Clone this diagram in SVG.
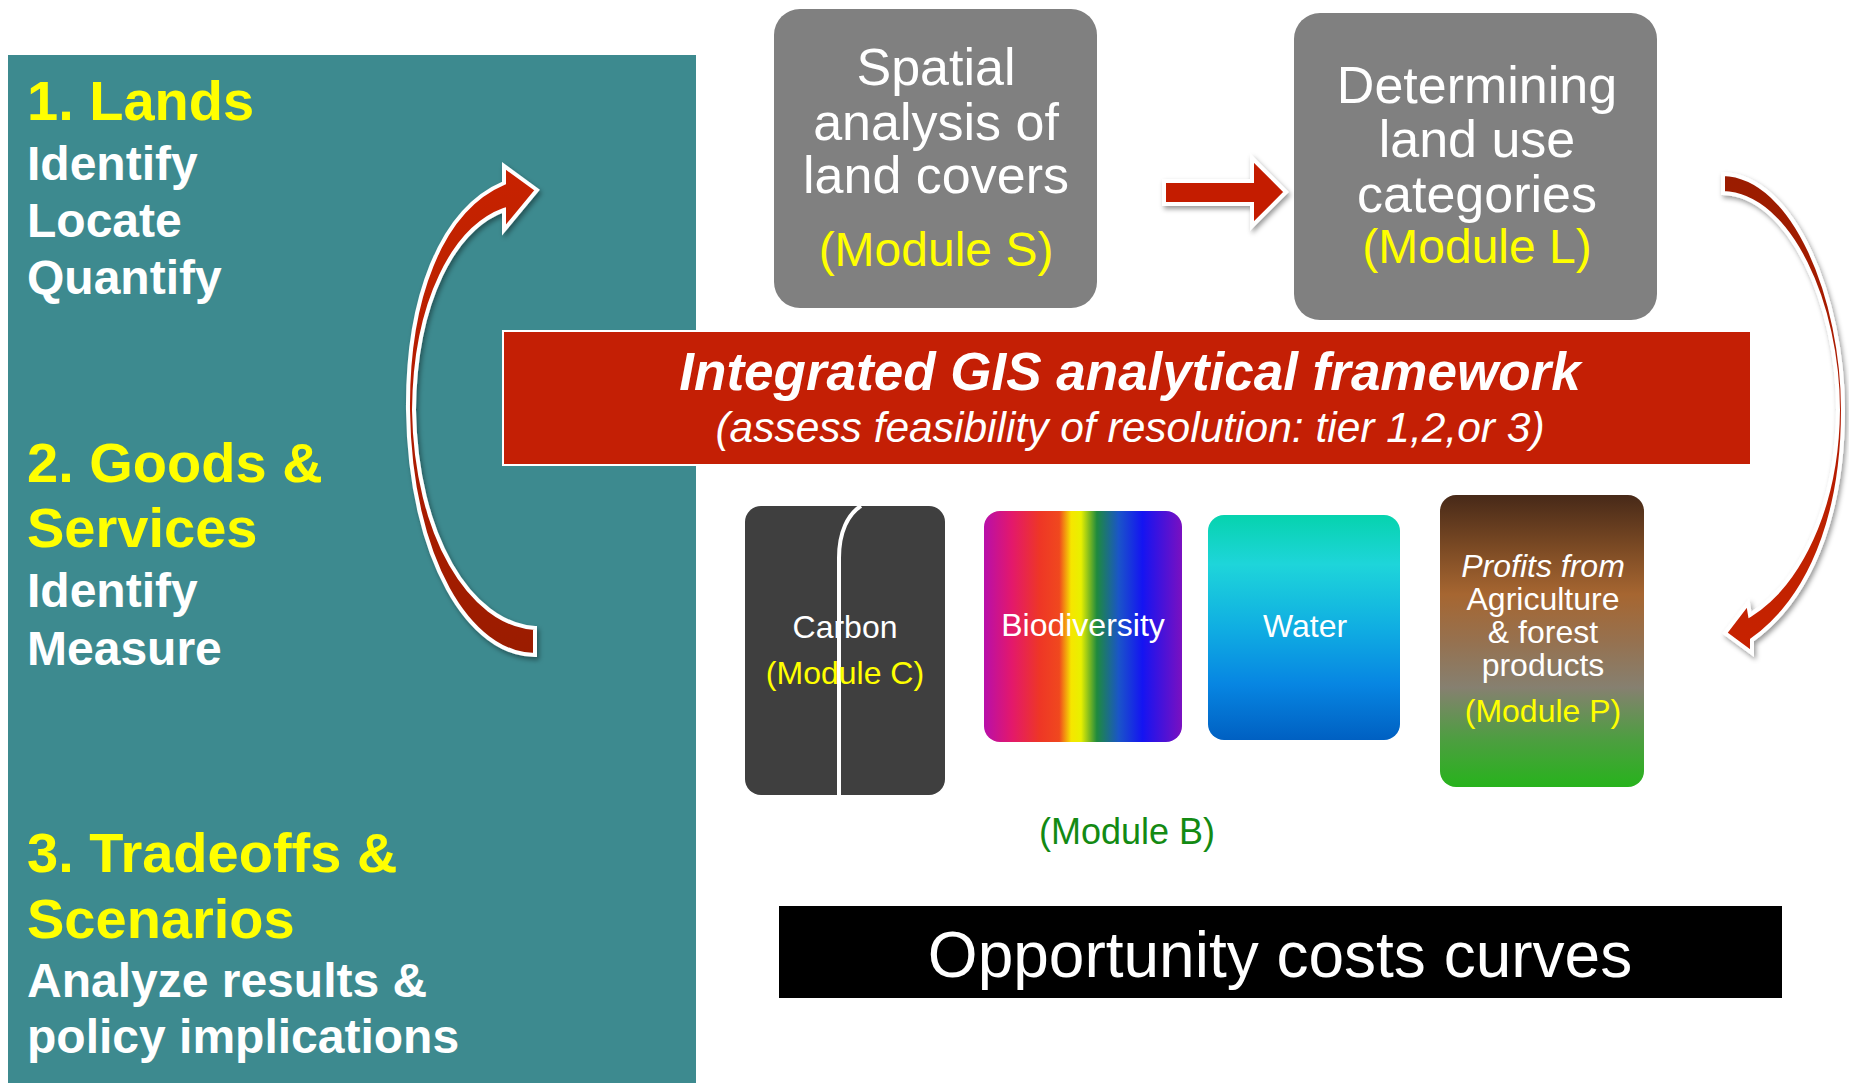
<svg xmlns="http://www.w3.org/2000/svg" width="1849" height="1083" viewBox="0 0 1849 1083">
  <defs>
    <style>
      .sans { font-family: "Liberation Sans", Arial, sans-serif; }
      .head { font-family: "Liberation Sans", Arial, sans-serif; font-weight: bold; font-size: 56px; fill: #FFFF00; }
      .step { font-family: "Liberation Sans", Arial, sans-serif; font-weight: bold; font-size: 48px; fill: #FFFFFF; }
      .box-title { font-family: "Liberation Sans", Arial, sans-serif; font-size: 52px; fill: #FFFFFF; text-anchor: middle; }
      .box-mod { font-family: "Liberation Sans", Arial, sans-serif; font-size: 48px; fill: #FFFF00; text-anchor: middle; }
      .small { font-family: "Liberation Sans", Arial, sans-serif; font-size: 32px; fill: #FFFFFF; text-anchor: middle; }
      .small-mod { font-family: "Liberation Sans", Arial, sans-serif; font-size: 32px; fill: #FFFF00; text-anchor: middle; }
      .arrow { stroke: #FFFFFF; stroke-width: 4; stroke-linejoin: miter; filter: url(#shadow); }
    </style>
    <filter id="shadow" x="-20%" y="-20%" width="150%" height="150%">
      <feDropShadow dx="2" dy="3" stdDeviation="2.5" flood-color="#000000" flood-opacity="0.4"/>
    </filter>
    <linearGradient id="gLeftArrow" x1="0" y1="0" x2="0" y2="1">
      <stop offset="0" stop-color="#C82205"/>
      <stop offset="0.5" stop-color="#B21E05"/>
      <stop offset="1" stop-color="#9A1B04"/>
    </linearGradient>
    <linearGradient id="gRightArrow" x1="0" y1="0" x2="0" y2="1">
      <stop offset="0" stop-color="#9A1B04"/>
      <stop offset="0.5" stop-color="#B21E05"/>
      <stop offset="1" stop-color="#C82205"/>
    </linearGradient>
    <linearGradient id="gBio" x1="0" y1="0" x2="1" y2="0">
      <stop offset="0" stop-color="#B80FAA"/>
      <stop offset="0.14" stop-color="#E3186C"/>
      <stop offset="0.28" stop-color="#EE3626"/>
      <stop offset="0.38" stop-color="#F0481E"/>
      <stop offset="0.44" stop-color="#F6E600"/>
      <stop offset="0.49" stop-color="#E8F000"/>
      <stop offset="0.57" stop-color="#1E8A3E"/>
      <stop offset="0.68" stop-color="#1A55C8"/>
      <stop offset="0.8" stop-color="#1414F2"/>
      <stop offset="1" stop-color="#7A10C0"/>
    </linearGradient>
    <linearGradient id="gWater" x1="0" y1="0" x2="0" y2="1">
      <stop offset="0" stop-color="#06D3AE"/>
      <stop offset="0.22" stop-color="#1ED5DA"/>
      <stop offset="0.5" stop-color="#10AEE2"/>
      <stop offset="0.75" stop-color="#0786E2"/>
      <stop offset="1" stop-color="#0060C2"/>
    </linearGradient>
    <linearGradient id="gProfit" x1="0" y1="0" x2="0" y2="1">
      <stop offset="0" stop-color="#472918"/>
      <stop offset="0.18" stop-color="#7B4A24"/>
      <stop offset="0.34" stop-color="#A66631"/>
      <stop offset="0.5" stop-color="#96714F"/>
      <stop offset="0.66" stop-color="#868070"/>
      <stop offset="0.83" stop-color="#4F9D42"/>
      <stop offset="1" stop-color="#27B31C"/>
    </linearGradient>
  </defs>

  <rect width="1849" height="1083" fill="#FFFFFF"/>

  <!-- left panel: the three steps -->
  <g id="steps-panel">
    <rect x="8" y="55" width="688" height="1028" fill="#3D8A8F"/>
    <text class="head" x="27" y="120">1. Lands</text>
    <text class="step" x="27" y="180">Identify</text>
    <text class="step" x="27" y="237">Locate</text>
    <text class="step" x="27" y="294">Quantify</text>
    <text class="head" x="27" y="482">2. Goods &amp;</text>
    <text class="head" x="27" y="547">Services</text>
    <text class="step" x="27" y="607">Identify</text>
    <text class="step" x="27" y="665">Measure</text>
    <text class="head" x="27" y="872">3. Tradeoffs &amp;</text>
    <text class="head" x="27" y="938">Scenarios</text>
    <text class="step" x="27" y="997">Analyze results &amp;</text>
    <text class="step" x="27" y="1053">policy implications</text>
  </g>

  <!-- Module S -->
  <g id="module-s">
    <rect x="774" y="9" width="323" height="299" rx="26" fill="#808080"/>
    <text class="box-title" x="936" y="85">Spatial</text>
    <text class="box-title" x="936" y="140">analysis of</text>
    <text class="box-title" x="936" y="193">land covers</text>
    <text class="box-mod" x="936" y="266">(Module S)</text>
  </g>

  <!-- Module L -->
  <g id="module-l">
    <rect x="1294" y="13" width="363" height="307" rx="26" fill="#808080"/>
    <text class="box-title" x="1477" y="103">Determining</text>
    <text class="box-title" x="1477" y="157">land use</text>
    <text class="box-title" x="1477" y="212">categories</text>
    <text class="box-mod" x="1477" y="263">(Module L)</text>
  </g>

  <!-- framework banner -->
  <g id="framework">
    <rect x="503" y="331" width="1248" height="134" fill="#C41F05" stroke="#FFFFFF" stroke-width="2"/>
    <text class="sans" x="1130" y="390" font-size="53" font-weight="bold" font-style="italic" fill="#FFFFFF" text-anchor="middle">Integrated GIS analytical framework</text>
    <text class="sans" x="1130" y="442" font-size="42.5" font-style="italic" fill="#FFFFFF" text-anchor="middle">(assess feasibility of resolution: tier 1,2,or 3)</text>
  </g>

  <!-- Module C -->
  <g id="module-c">
    <rect x="745" y="506" width="200" height="289" rx="16" fill="#3F3F3F"/>
    <path d="M839,795 L839,558 C839,532 848,514 861,506" fill="none" stroke="#FFFFFF" stroke-width="4"/>
    <text class="small" x="845" y="638">Carbon</text>
    <text class="small-mod" x="845" y="684">(Module C)</text>
  </g>

  <!-- Biodiversity -->
  <g id="biodiversity">
    <rect x="984" y="511" width="198" height="231" rx="16" fill="url(#gBio)"/>
    <text class="small" x="1083" y="636">Biodiversity</text>
  </g>

  <!-- Water -->
  <g id="water">
    <rect x="1208" y="515" width="192" height="225" rx="16" fill="url(#gWater)"/>
    <text class="small" x="1305" y="637">Water</text>
  </g>

  <!-- Module P -->
  <g id="module-p">
    <rect x="1440" y="495" width="204" height="292" rx="16" fill="url(#gProfit)"/>
    <text class="small" x="1543" y="577" font-style="italic">Profits from</text>
    <text class="small" x="1543" y="610">Agriculture</text>
    <text class="small" x="1543" y="643">&amp; forest</text>
    <text class="small" x="1543" y="676">products</text>
    <text class="small-mod" x="1543" y="722">(Module P)</text>
  </g>

  <!-- Module B label -->
  <g id="module-b">
    <text class="sans" x="1127" y="844" font-size="36" fill="#138A13" text-anchor="middle">(Module B)</text>
  </g>

  <!-- opportunity costs -->
  <g id="opportunity-costs">
    <rect x="779" y="906" width="1003" height="92" fill="#000000"/>
    <text class="sans" x="1280" y="977" font-size="64" fill="#FFFFFF" text-anchor="middle">Opportunity costs curves</text>
  </g>

  <!-- connectors -->
  <g id="connectors">
    <!-- S to L -->
    <path class="arrow" fill="#C41F05" stroke-width="6" d="M1164,181 L1252,181 L1252,158 L1286,192 L1252,226 L1252,204 L1164,204 Z"/>
    <!-- L down to the service modules (right curve) -->
    <path class="arrow" fill="url(#gRightArrow)" d="M1723,174 C1795,176 1843,300 1843,410 C1843,520 1808,600 1752,640 L1752,653 L1725,633 L1748,603 L1750,615 C1798,585 1837,510 1838,410 C1838,305 1790,195 1723,193 Z"/>
    <!-- goods and services back up to lands (left curve) -->
    <path class="arrow" fill="url(#gLeftArrow)" d="M535,655 C470,655 410,560 408,410 C407,300 440,210 504,183 L504,166 L537,190 L504,230 L504,210 C455,228 415,300 414,410 C416,535 470,624 535,628 Z"/>
  </g>
</svg>
